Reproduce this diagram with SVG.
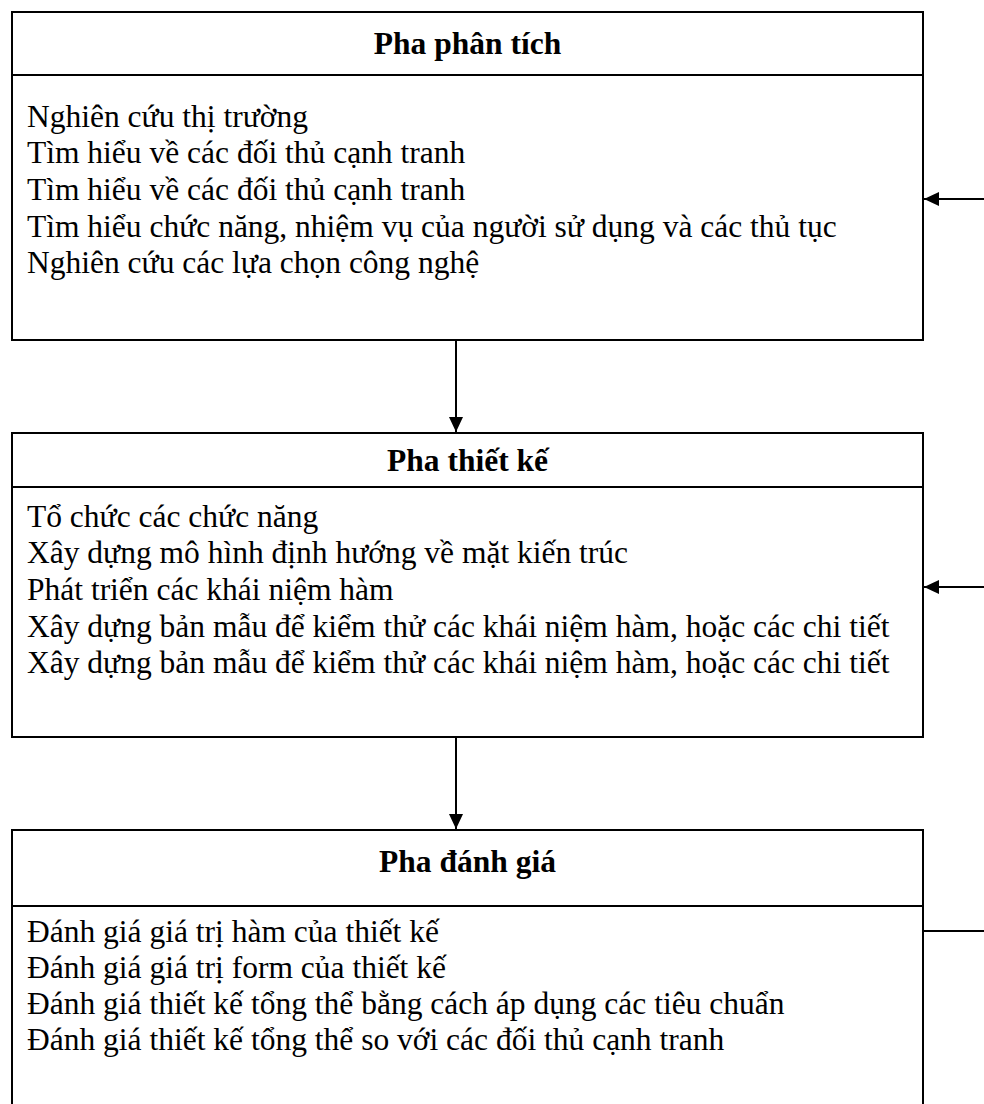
<svg xmlns="http://www.w3.org/2000/svg" width="984" height="1104" viewBox="0 0 984 1104">
<style>
.box{fill:#fff;stroke:#000;stroke-width:2}
.div{stroke:#000;stroke-width:2}
.title{font-family:"Liberation Serif","Times New Roman",serif;font-weight:bold;font-size:31.5px;text-anchor:middle;fill:#000}
.item{font-family:"Liberation Serif","Times New Roman",serif;font-size:31.5px;fill:#000}
.conn{stroke:#000;stroke-width:2;fill:none}
</style>
<defs>
<marker id="arr" viewBox="0 0 15 14" refX="15" refY="7" markerWidth="15" markerHeight="14" markerUnits="userSpaceOnUse" orient="auto">
<path d="M0,0 L15,7 L0,14 Z" fill="#000"/>
</marker>
</defs>
<rect width="984" height="1104" fill="#fff"/>
<g id="pha-phan-tich">
<rect class="box" x="12" y="12" width="911" height="328"/>
<line class="div" x1="12" y1="75" x2="923" y2="75"/>
<text class="title" x="467.5" y="54">Pha phân tích</text>
<text class="item" x="27" y="127">Nghiên cứu thị trường</text>
<text class="item" x="27" y="163">Tìm hiểu về các đối thủ cạnh tranh</text>
<text class="item" x="27" y="200">Tìm hiểu về các đối thủ cạnh tranh</text>
<text class="item" x="27" y="237">Tìm hiểu chức năng, nhiệm vụ của người sử dụng và các thủ tục</text>
<text class="item" x="27" y="273">Nghiên cứu các lựa chọn công nghệ</text>
</g>
<g id="pha-thiet-ke">
<rect class="box" x="12" y="433" width="911" height="304"/>
<line class="div" x1="12" y1="487" x2="923" y2="487"/>
<text class="title" x="467.5" y="471">Pha thiết kế</text>
<text class="item" x="27" y="527">Tổ chức các chức năng</text>
<text class="item" x="27" y="563">Xây dựng mô hình định hướng về mặt kiến trúc</text>
<text class="item" x="27" y="600">Phát triển các khái niệm hàm</text>
<text class="item" x="27" y="637">Xây dựng bản mẫu để kiểm thử các khái niệm hàm, hoặc các chi tiết</text>
<text class="item" x="27" y="673">Xây dựng bản mẫu để kiểm thử các khái niệm hàm, hoặc các chi tiết</text>
</g>
<g id="pha-danh-gia">
<rect class="box" x="12" y="830" width="911" height="300"/>
<line class="div" x1="12" y1="906" x2="923" y2="906"/>
<text class="title" x="467.5" y="872">Pha đánh giá</text>
<text class="item" x="27" y="942">Đánh giá giá trị hàm của thiết kế</text>
<text class="item" x="27" y="978">Đánh giá giá trị form của thiết kế</text>
<text class="item" x="27" y="1014">Đánh giá thiết kế tổng thể bằng cách áp dụng các tiêu chuẩn</text>
<text class="item" x="27" y="1050">Đánh giá thiết kế tổng thể so với các đối thủ cạnh tranh</text>
</g>
<g id="connectors">
<line class="conn" x1="456" y1="340" x2="456" y2="432" marker-end="url(#arr)"/>
<line class="conn" x1="456" y1="737" x2="456" y2="829" marker-end="url(#arr)"/>
<line class="conn" x1="984" y1="199" x2="924" y2="199" marker-end="url(#arr)"/>
<line class="conn" x1="984" y1="587" x2="924" y2="587" marker-end="url(#arr)"/>
<line class="conn" x1="984" y1="931" x2="923" y2="931"/>
</g>
</svg>
